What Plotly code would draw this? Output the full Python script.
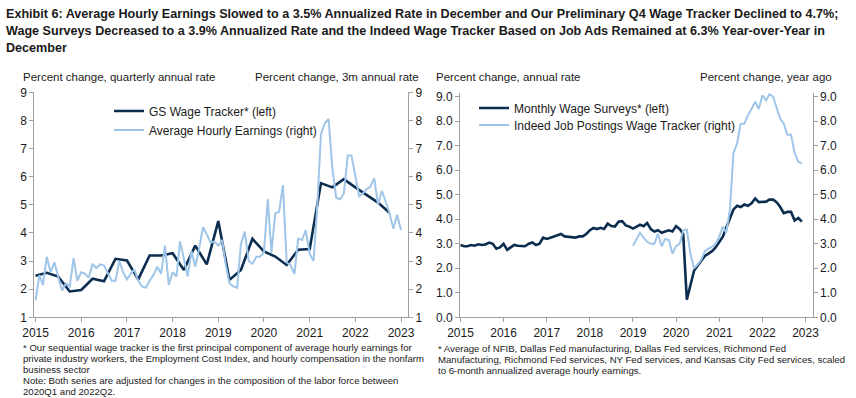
import pandas as pd
import plotly.graph_objects as go

W, H = 856, 398

# ---------------- data ----------------
year_ticks = [f"{y}-01-01" for y in range(2015, 2024)]
year_labels = [str(y) for y in range(2015, 2024)]

# Left panel: GS wage tracker (quarterly, left axis)
gs_wage_tracker = [2.48, 2.58, 2.45, 1.92, 1.97, 2.37, 2.28, 3.08,
                   3.02, 2.35, 3.20, 3.20, 3.28, 2.68, 3.55, 2.88,
                   4.42, 2.33, 2.68, 3.79, 3.34, 3.16, 2.86, 3.40,
                   3.43, 5.77, 5.62, 5.91, 5.62, 5.35, 5.08, 4.72]
gs_dates = pd.date_range("2015-01-01", periods=len(gs_wage_tracker), freq="QS")

# Left panel: Average hourly earnings (monthly, 3m annual rate, right axis)
avg_hourly_earnings = [1.60, 2.50, 2.15, 3.15, 2.60, 2.95, 2.45, 1.95, 2.20, 2.10, 3.10, 2.30,
                       2.60, 2.55, 2.40, 2.90, 2.75, 2.88, 2.85, 2.55, 2.30, 2.30, 3.00, 2.60,
                       2.35, 2.55, 2.70, 2.30, 2.10, 2.05, 2.30, 2.50, 2.80, 2.55, 3.55, 2.15,
                       2.60, 2.45, 3.70, 3.10, 2.45, 3.35, 2.80, 3.45, 4.20, 3.95, 3.65, 3.70,
                       3.55, 3.75, 2.90, 2.20, 2.10, 2.05, 3.60, 4.05, 3.00, 2.90, 3.15, 3.15,
                       3.30, 5.20, 3.30, 4.70, 4.75, 5.70, 2.95, 2.85, 2.55, 3.80, 3.75, 4.10,
                       3.25, 3.00, 4.85, 7.50, 7.90, 8.05, 6.30, 5.25, 5.20, 5.40, 6.75, 6.75,
                       6.00, 5.30, 5.40, 5.55, 5.65, 5.95, 5.00, 5.50, 5.10, 4.70, 4.15, 4.65,
                       4.10]
ahe_dates = pd.date_range("2015-01-01", periods=len(avg_hourly_earnings), freq="MS")

# Right panel: Monthly wage surveys (left axis)
monthly_wage_surveys = [2.95, 2.90, 2.90, 2.95, 2.92, 2.98, 2.95, 2.97, 3.05, 3.00, 2.80, 2.85,
                        3.00, 2.75, 2.85, 2.95, 2.92, 2.90, 2.90, 3.00, 3.05, 2.95, 3.00, 3.25,
                        3.20, 3.25, 3.30, 3.35, 3.40, 3.30, 3.28, 3.25, 3.25, 3.30, 3.30, 3.40,
                        3.55, 3.65, 3.60, 3.65, 3.60, 3.82, 3.72, 3.70, 3.90, 3.92, 3.75, 3.70,
                        3.62, 3.70, 3.78, 3.72, 3.85, 3.60, 3.50, 3.55, 3.45, 3.50, 3.55, 3.50,
                        3.72, 3.60, 3.40, 0.72, 1.30, 1.90, 2.10, 2.30, 2.50, 2.60, 2.70, 2.85,
                        3.05, 3.30, 3.65, 4.00, 4.40, 4.55, 4.50, 4.60, 4.55, 4.65, 4.85, 4.70,
                        4.70, 4.72, 4.80, 4.80, 4.70, 4.50, 4.25, 4.30, 4.30, 3.95, 4.05, 3.90]
mws_dates = pd.date_range("2015-01-01", periods=len(monthly_wage_surveys), freq="MS")

# Right panel: Indeed job postings wage tracker (right axis)
indeed_wage_tracker = [2.92, 3.20, 3.45, 3.25, 3.08, 3.00, 3.00, 3.40, 2.90, 3.20, 3.15, 2.60,
                       2.90, 3.00, 3.55, 3.58, 2.60, 2.00, 2.15, 2.35, 2.70, 2.80, 2.88, 3.00,
                       3.30, 3.70, 3.45, 4.40, 6.70, 7.10, 7.90, 7.90, 8.25, 8.50, 8.80, 8.50,
                       9.05, 8.85, 9.10, 9.00, 8.55, 8.10, 7.90, 7.45, 7.45, 6.70, 6.35, 6.28]
indeed_dates = pd.date_range("2019-01-01", periods=len(indeed_wage_tracker), freq="MS")

left_ticks = [1, 2, 3, 4, 5, 6, 7, 8, 9]
right_ticks = [0, 1, 2, 3, 4, 5, 6, 7, 8, 9]

# ---------------- style ----------------
NAVY = "#0b2d50"
LIGHT = "#9fc5e8"
AXIS = "#a0a0a0"
TXT = "#1a1a1a"
FONT = "Liberation Sans, Arial, sans-serif"


def px(x):
    return x / W


def py(y):
    return 1 - y / H


fig = go.Figure()

fig.add_trace(go.Scatter(x=gs_dates, y=gs_wage_tracker, mode="lines",
                         name="GS Wage Tracker* (left)", line=dict(color=NAVY, width=2.6),
                         xaxis="x", yaxis="y", legend="legend"))
fig.add_trace(go.Scatter(x=ahe_dates, y=avg_hourly_earnings, mode="lines",
                         name="Average Hourly Earnings (right)", line=dict(color=LIGHT, width=2),
                         xaxis="x", yaxis="y2", legend="legend2"))
fig.add_trace(go.Scatter(x=mws_dates, y=monthly_wage_surveys, mode="lines",
                         name="Monthly Wage Surveys* (left)", line=dict(color=NAVY, width=2.6),
                         xaxis="x2", yaxis="y3", legend="legend3"))
fig.add_trace(go.Scatter(x=indeed_dates, y=indeed_wage_tracker, mode="lines",
                         name="Indeed Job Postings Wage Tracker (right)", line=dict(color=LIGHT, width=2),
                         xaxis="x2", yaxis="y4", legend="legend4"))

common_x = dict(type="date", tickmode="array", tickvals=year_ticks, ticktext=year_labels,
                showline=True, linecolor=AXIS, linewidth=1, ticks="outside", ticklen=4,
                tickcolor=AXIS, showgrid=False, zeroline=False,
                tickfont=dict(family=FONT, size=12, color=TXT), automargin=False)
common_y = dict(showline=True, linecolor=AXIS, linewidth=1, ticks="outside", ticklen=4,
                tickcolor=AXIS, showgrid=False, zeroline=False,
                tickfont=dict(family=FONT, size=12, color=TXT), automargin=False,
                tickmode="array")

L_x0, L_x1 = px(34.3), px(408)
R_x0, R_x1 = px(460), px(812.7)
R_TOP = 9.15  # right panel axis runs slightly above the 9.0 tick


def legend_at(x, y):
    return dict(x=px(x), y=py(y), xanchor="left", yanchor="middle",
                bgcolor="rgba(0,0,0,0)", borderwidth=0,
                font=dict(family=FONT, size=12, color=TXT), tracegroupgap=0)


fig.update_layout(
    width=W, height=H, margin=dict(l=0, r=0, t=0, b=0),
    paper_bgcolor="white", plot_bgcolor="white",
    font=dict(family=FONT, color=TXT),
    xaxis=dict(domain=[L_x0, L_x1], range=["2014-12-22", "2023-02-26"], anchor="y", **common_x),
    yaxis=dict(domain=[py(317.3), py(92.3)], range=[1, 9], tickvals=left_ticks,
               anchor="x", side="left", **common_y),
    yaxis2=dict(range=[1, 9], tickvals=left_ticks, overlaying="y", anchor="x",
                side="right", **common_y),
    xaxis2=dict(domain=[R_x0, R_x1], range=["2014-12-28", "2023-03-03"], anchor="y3", **common_x),
    yaxis3=dict(domain=[py(317.3), py(317.3 - 220.6 * R_TOP / 9)], range=[0, R_TOP],
                tickvals=right_ticks, tickformat=".1f", anchor="x2", side="left", **common_y),
    yaxis4=dict(range=[0, R_TOP], tickvals=right_ticks, tickformat=".1f", overlaying="y3",
                anchor="x2", side="right", **common_y),
    legend=legend_at(109, 111),
    legend2=legend_at(109, 130),
    legend3=legend_at(474, 108),
    legend4=legend_at(474, 125),
    showlegend=True,
)

annotations = []
title_lines = [
    "Exhibit 6: Average Hourly Earnings Slowed to a 3.5% Annualized Rate in December and Our Preliminary Q4 Wage Tracker Declined to 4.7%;",
    "Wage Surveys Decreased to a 3.9% Annualized Rate and the Indeed Wage Tracker Based on Job Ads Remained at 6.3% Year-over-Year in",
    "December",
]
for i, t in enumerate(title_lines):
    annotations.append(dict(text=f"<b>{t}</b>", x=px(4), y=py(14 + 17 * i), xref="paper", yref="paper",
                            xanchor="left", yanchor="middle", showarrow=False,
                            font=dict(family=FONT, size=12.6, color=TXT)))

axis_titles = [
    ("Percent change, quarterly annual rate", 119),
    ("Percent change, 3m annual rate", 337),
    ("Percent change, annual rate", 508),
    ("Percent change, year ago", 766),
]
for t, cx in axis_titles:
    annotations.append(dict(text=t, x=px(cx), y=py(77), xref="paper", yref="paper",
                            xanchor="center", yanchor="middle", showarrow=False,
                            font=dict(family=FONT, size=11.5, color=TXT)))

foot_left_lines = [
    "* Our sequential wage tracker is the first principal component of average hourly earnings for",
    "private industry workers, the Employment Cost Index, and hourly compensation in the nonfarm",
    "business sector",
    "Note: Both series are adjusted for changes in the composition of the labor force between",
    "2020Q1 and 2022Q2.",
]
foot_right_lines = [
    "* Average of NFIB, Dallas Fed manufacturing, Dallas Fed services, Richmond Fed",
    "Manufacturing, Richmond Fed services, NY Fed services, and Kansas City Fed services, scaled",
    "to 6-month annualized average hourly earnings.",
]
for i, t in enumerate(foot_left_lines):
    annotations.append(dict(text=t, x=px(21), y=py(347 + 11 * i), xref="paper", yref="paper",
                            xanchor="left", yanchor="middle", align="left", showarrow=False,
                            font=dict(family=FONT, size=9.6, color=TXT)))
for i, t in enumerate(foot_right_lines):
    annotations.append(dict(text=t, x=px(436), y=py(348 + 11.2 * i), xref="paper", yref="paper",
                            xanchor="left", yanchor="middle", align="left", showarrow=False,
                            font=dict(family=FONT, size=9.6, color=TXT)))

fig.update_layout(annotations=annotations)

fig.write_html("out.html", config={"displayModeBar": False},
               post_script="document.body.style.margin='0';")
